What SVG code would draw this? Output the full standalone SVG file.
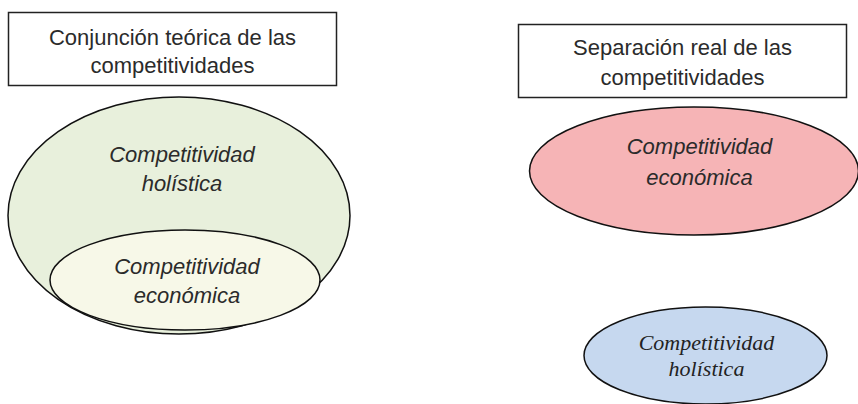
<svg xmlns="http://www.w3.org/2000/svg" width="858" height="404" viewBox="0 0 858 404">
<style>
.box{fill:#fff;stroke:#222;stroke-width:1.5}
.ell{stroke:#111;stroke-width:1.5}
.t{font-family:"Liberation Sans",Arial,sans-serif;font-size:22px;fill:#2b2b2b;text-anchor:middle}
.i{font-style:italic}
.s{font-family:"Liberation Serif","Times New Roman",serif;font-size:22px;font-style:italic;fill:#222;text-anchor:middle}
</style>
<rect width="858" height="404" fill="#fff"/>
<g id="title-left">
<rect class="box" x="8.5" y="12.5" width="328" height="73"/>
<text class="t" x="172.5" y="45">Conjunción teórica de las</text>
<text class="t" x="172.5" y="73">competitividades</text>
</g>
<g id="holistica-left">
<ellipse class="ell" cx="179" cy="215.5" rx="171" ry="118.5" fill="#e8f0dc"/>
<text class="t i" x="182" y="162">Competitividad</text>
<text class="t i" x="182" y="191">holística</text>
</g>
<g id="economica-left">
<ellipse class="ell" cx="185" cy="280" rx="135" ry="50" fill="#f7f8e8"/>
<text class="t i" x="187" y="274">Competitividad</text>
<text class="t i" x="187" y="303">económica</text>
</g>
<g id="title-right">
<rect class="box" x="518.5" y="24.5" width="328" height="73"/>
<text class="t" x="682.5" y="55">Separación real de las</text>
<text class="t" x="682.5" y="85">competitividades</text>
</g>
<g id="economica-right">
<ellipse class="ell" cx="694" cy="171" rx="164.5" ry="64" fill="#f6b4b6"/>
<text class="t i" x="699.5" y="154">Competitividad</text>
<text class="t i" x="699.5" y="185">económica</text>
</g>
<g id="holistica-right">
<ellipse class="ell" cx="705.5" cy="355.5" rx="121.5" ry="48.5" fill="#c6d8ef"/>
<text class="s" x="706.5" y="350">Competitividad</text>
<text class="s" x="706.5" y="376">holística</text>
</g>
<g id="connectors"></g>
</svg>
